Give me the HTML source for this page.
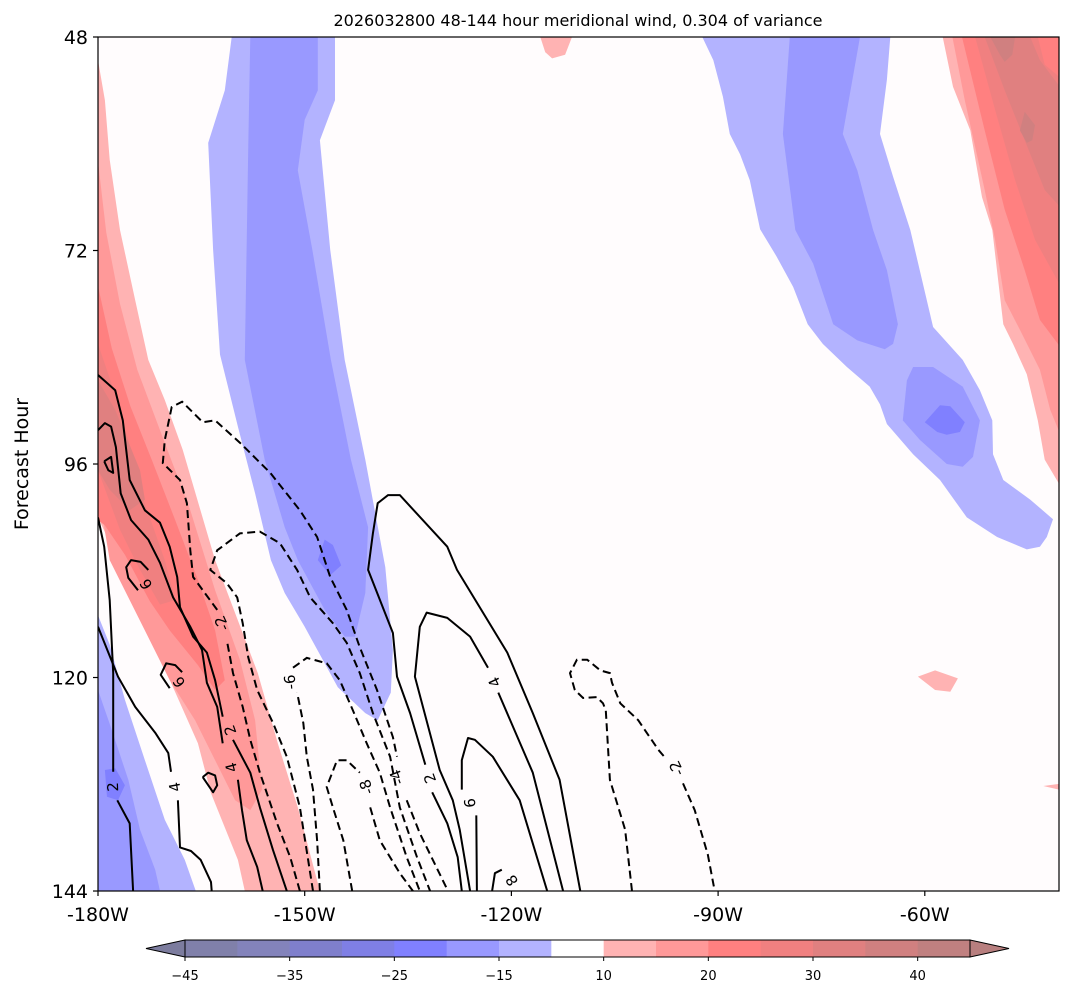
<!DOCTYPE html>
<html><head><meta charset="utf-8">
<style>
html,body{margin:0;padding:0;background:#fff;}
svg{display:block;font-family:"DejaVu Sans","Liberation Sans",sans-serif;}
</style></head>
<body>
<svg id="chart" width="1069" height="997" viewBox="0 0 1069 997" xmlns="http://www.w3.org/2000/svg">
  <defs><clipPath id="plotclip"><rect x="98" y="37" width="961" height="854"/></clipPath></defs>
  <text x="578" y="26" text-anchor="middle" font-size="16">2026032800 48-144 hour meridional wind, 0.304 of variance</text>
  <rect x="98" y="37" width="961" height="854" fill="#fffcfd"/>
  <g id="fills" clip-path="url(#plotclip)"></g>
  <g id="contours" clip-path="url(#plotclip)"></g>
  <rect x="98" y="37" width="961" height="854" fill="none" stroke="#000" stroke-width="1.2"/>
  <g id="axes"></g>
  <text transform="translate(28,464) rotate(-90)" text-anchor="middle" font-size="19">Forecast Hour</text>
  <g id="colorbar"></g>
</svg>
<script>
// ---------- axis data ----------
const xTicks = [-180, -150, -120, -90, -60];
const xTickLabels = ["-180W", "-150W", "-120W", "-90W", "-60W"];
const yTicks = [48, 72, 96, 120, 144];
const yTickLabels = ["48", "72", "96", "120", "144"];
const cbLevels = [-45,-40,-35,-30,-25,-20,-15,-10,10,15,20,25,30,35,40,45];
const cbTickValues = [-45,-35,-25,-15,10,20,30,40];
const cbColors = ["#8080aa","#8383bb","#7f7fcc","#7f7fe5","#8080ff","#9999ff","#b3b3ff","#ffffff","#ffb3b3","#ff9999","#ff8080","#f08080","#e08080","#d08080","#c08080"];

// ---------- shaded regions [lon, hour] ----------
const blueBand1Light = [[-160.6,48],[-161.6,54.0],[-164.0,59.9],[-163.3,71.9],[-162.3,83.7],[-159.7,91.8],[-157.2,99.3],[-154.9,106.8],[-152.9,110.5],[-150.0,114.3],[-145.2,121.1],[-141.2,124.0],[-139.4,124.8],[-137.5,121.7],[-137.2,116.9],[-138.3,107.6],[-141.2,95.5],[-144.2,84.3],[-146.3,71.9],[-147.8,59.6],[-145.6,55.1],[-145.6,48]];
const blueBand1Dark = [[-157.9,48],[-158.2,60.7],[-158.7,84.3],[-155.8,95.5],[-152.9,103.1],[-151.0,106.8],[-147.1,112.4],[-144.2,115.4],[-142.7,115.4],[-141.2,110.5],[-140.8,103.1],[-143.3,95.5],[-146.2,84.3],[-148.9,71.9],[-151.0,63.0],[-150.0,57.3],[-148.1,54.0],[-148.1,48]];
const blueBand1Core = [[-148.1,106.8],[-147.1,104.5],[-145.9,105.1],[-144.7,107.4],[-146.3,108.5]];
const blueBand2Light = [[-92.3,48],[-90.7,50.6],[-89.3,54.7],[-88.3,58.9],[-86.8,61.2],[-85.4,64.1],[-83.9,69.6],[-81.5,72.7],[-79.1,76.1],[-77.0,80.3],[-74.8,82.5],[-71.3,85.1],[-68.0,87.3],[-66.5,89.3],[-65.5,91.5],[-61.7,94.9],[-57.8,97.8],[-53.9,102.0],[-49.5,104.2],[-45.2,105.6],[-43.3,105.3],[-42.3,104.2],[-41.4,102.2],[-44.7,100.0],[-48.6,97.8],[-50.1,94.9],[-50.2,91.1],[-52.0,87.7],[-54.5,84.3],[-58.8,80.6],[-62.1,69.7],[-64.6,63.7],[-66.5,58.9],[-65.5,52.8],[-65.0,48]];
const blueBand2Dark = [[-79.6,48],[-80.6,58.9],[-78.8,69.7],[-76.2,73.5],[-73.3,80.3],[-69.8,82.1],[-65.8,83.1],[-64.6,82.5],[-63.9,80.3],[-65.5,74.2],[-67.5,69.7],[-69.8,63.0],[-71.9,58.9],[-69.4,48]];
const blueBand2Dark2 = [[-61.7,85.1],[-58.8,85.1],[-54.5,87.3],[-52.0,91.1],[-53.0,95.2],[-54.5,96.3],[-56.8,96.0],[-60.7,93.3],[-63.2,91.1],[-62.6,86.6]];
const blueBand2Core = [[-60.0,91.3],[-57.8,89.4],[-56.3,89.5],[-54.2,91.3],[-54.9,92.4],[-56.8,92.7],[-58.2,92.4]];
const blueLowerLeftLight = [[-180,113.0],[-178.3,116.3],[-176.1,122.5],[-173.2,129.3],[-170.3,136.0],[-167.4,140.5],[-165.8,144],[-180,144]];
const blueLowerLeftDark = [[-180,121.4],[-178.0,125.9],[-175.6,131.5],[-173.9,137.1],[-171.7,141.6],[-171.0,144],[-180,144]];
const blueLowerLeftCore = [[-179.0,130.4],[-177.5,130.2],[-176.1,132.1],[-177.1,133.8],[-178.7,133.4]];
const redRight10 = [[-57.4,48],[-55.9,53.6],[-53.4,58.5],[-51.7,66.0],[-50.2,69.7],[-48.6,80.3],[-47.2,82.5],[-45.2,85.9],[-43.6,91.1],[-42.6,95.5],[-40,98.9],[-40,48]];
const redRight15 = [[-56.0,48],[-54.2,55.1],[-51.3,65.2],[-49.8,70.8],[-48.4,77.6],[-46.2,80.9],[-43.3,85.4],[-41.8,89.9],[-40,93.3],[-40,48]];
const redRight20 = [[-54.6,48],[-51.3,58.5],[-48.4,67.4],[-45.5,74.2],[-43.3,79.8],[-40,83.2],[-40,48]];
const redRight25 = [[-52.7,48],[-49.8,56.2],[-46.9,64.1],[-44.0,70.8],[-40,76.4],[-40,52.8],[-42.6,51.1],[-43.6,48]];
const redRight30 = [[-51.3,48],[-48.4,54.0],[-45.5,59.6],[-42.6,65.2],[-40,67.4],[-40,54.0],[-43.3,50.6],[-44.7,48]];
const redRight35a = [[-50.5,48],[-49.1,50.0],[-48.4,50.8],[-47.3,50.0],[-46.9,48]];
const redRight35b = [[-46.2,58.5],[-45.5,56.4],[-44.0,57.9],[-44.4,59.6],[-45.2,59.9]];
const redLeft10 = [[-180,50.6],[-179.0,55.1],[-178.3,61.8],[-176.8,69.7],[-174.6,77.6],[-172.7,84.3],[-170.3,88.8],[-167.7,94.4],[-163.0,106.8],[-156.8,119.5],[-153.9,127.4],[-151.0,134.6],[-147.8,144],[-158.7,144],[-159.7,140.5],[-163.6,133.0],[-165.5,127.4],[-169.8,119.9],[-174.2,112.7],[-177.1,106.8],[-180,102.0]];
const redLeft15 = [[-180,62.0],[-178.8,70.0],[-176.8,78.0],[-174.3,85.4],[-171.0,92.2],[-166.6,101.2],[-163.0,110.2],[-159.4,118.0],[-157.2,124.8],[-156.2,132.6],[-157.9,134.9],[-160.1,133.8],[-163.0,129.3],[-165.9,124.8],[-169.6,120.3],[-172.5,115.8],[-175.4,111.3],[-178.3,106.8],[-180,98.9]];
const redLeft20 = [[-180,76.0],[-178.0,83.0],[-175.3,89.5],[-172.2,95.5],[-168.8,102.3],[-165.5,109.0],[-163.0,114.7],[-161.6,120.3],[-163.0,121.4],[-165.5,118.6],[-169.6,114.7],[-172.5,111.4],[-176.1,106.2],[-179.0,102.9],[-180,102.3]];
const redLeft25 = [[-180,82.5],[-177.8,87.5],[-175.6,93.3],[-173.4,100.0],[-170.3,106.8],[-168.8,111.3],[-171.0,111.8],[-173.9,107.9],[-176.8,103.4],[-180,96.7]];
const redLeft30 = [[-180,86.6],[-177.5,89.9],[-173.9,96.7],[-173.2,100.0],[-175.4,101.2],[-178.3,98.9],[-180,96.7]];
const pinkTop = [[-115.8,48],[-115.1,49.7],[-114.1,50.4],[-112.2,50.0],[-111.2,48]];
const pinkMid = [[-61.0,119.9],[-58.5,119.2],[-55.2,120.1],[-56.3,121.6],[-58.5,121.4]];
const pinkEdge = [[-42.8,132.2],[-40,131.9],[-40,132.7]];

// region -> shading level (lower bound of contour interval)
const regions = [
  [blueBand1Light, -15], [blueBand1Dark, -20], [blueBand1Core, -25],
  [blueBand2Light, -15], [blueBand2Dark, -20], [blueBand2Dark2, -20], [blueBand2Core, -25],
  [blueLowerLeftLight, -15], [blueLowerLeftDark, -20], [blueLowerLeftCore, -25],
  [redRight10, 10], [redRight15, 15], [redRight20, 20], [redRight25, 25], [redRight30, 30], [redRight35a, 35], [redRight35b, 35],
  [redLeft10, 10], [redLeft15, 15], [redLeft20, 20], [redLeft25, 25], [redLeft30, 30],
  [pinkTop, 10], [pinkMid, 10], [pinkEdge, 10]
];
const regionNames = ["blue-band1-15","blue-band1-20","blue-band1-25","blue-band2-15","blue-band2-20","blue-band2-20b","blue-band2-25","blue-lowerleft-15","blue-lowerleft-20","blue-lowerleft-25","red-right-10","red-right-15","red-right-20","red-right-25","red-right-30","red-right-35a","red-right-35b","red-left-10","red-left-15","red-left-20","red-left-25","red-left-30","pink-top","pink-mid","pink-edge"];

// ---------- contour lines [lon, hour], null = label gap ----------
const cPos2Left = [[-180,86.0],[-177.5,87.7],[-176.4,91.1],[-175.4,97.8],[-173.2,101.2],[-171.0,102.6],[-169.6,105.3],[-168.5,108.7],[-168.1,112.1],[-166.2,115.4],[-164.2,117.2],[-163.0,120.3],[-161.9,124.4],null,[-160.4,127.0],[-157.9,130.7],[-156.5,134.6],[-154.6,139.4],[-152.6,144]];
const cPos4Left = [[-180,92.2],[-179.0,91.4],[-178.1,91.8],[-177.4,94.1],[-176.7,99.3],[-175.2,102.3],[-172.7,104.5],[-171.0,107.1],[-169.1,111.0],[-166.6,114.3],[-164.9,116.9],[-164.2,120.6],[-162.7,123.3],[-161.9,127.4],null,[-159.7,131.5],[-159.1,134.9],[-158.4,138.3],[-156.9,141.3],[-156.1,144]];
const cPosTri = [[-179.1,95.7],[-178.1,95.2],[-177.8,97.0],[-178.5,96.7],[-179.1,95.7]];
const cPos6a = [[-174.2,110.2],[-175.6,108.8],[-175.9,107.6],[-175.2,106.8],[-173.8,107.0],[-172.7,107.9]];
const cPos6b = [[-169.6,121.2],[-170.9,119.7],[-170.1,118.4],[-168.8,118.6],[-167.8,119.4]];
const cPosLoop = [[-164.8,131.2],[-164.0,130.7],[-163.0,131.0],[-162.7,132.1],[-163.3,132.9],[-164.8,131.2]];
const cPos2Vert = [[-180,102.0],[-179.1,105.3],[-178.3,111.3],[-177.8,119.5],[-177.8,130.6],null,[-177.2,133.8],[-175.4,136.4],[-174.9,144]];
const cPos4Vert = [[-180,114.3],[-177.1,119.9],[-174.6,123.3],[-171.7,126.2],[-169.8,128.5],[-169.4,130.6],null,[-168.4,133.8],[-168.1,139.1],[-166.5,139.5],[-165.1,140.5],[-163.6,143.0],[-163.5,144]];
const cPos2Mid = [[-127.2,144],[-127.8,140.2],[-129.3,136.4],[-131.5,132.9],null,[-132.5,129.8],[-134.7,124.0],[-136.6,119.9],[-137.2,115.0],[-140.8,107.9],[-140.1,103.8],[-139.4,100.4],[-137.9,99.5],[-136.2,99.5],[-129.3,105.3],[-127.9,107.9],[-120.6,117.2],[-116.9,124.0],[-113.0,131.5],[-110.0,144]];
const cPos4Mid = [[-126.0,144],[-127.5,137.1],[-128.5,133.8],[-130.4,130.4],[-134.0,119.9],[-133.3,114.3],[-132.3,112.7],[-129.3,113.3],[-126.0,115.4],[-123.4,118.9],null,[-121.9,121.7],[-116.9,130.7],[-112.5,144]];
const cPos6Mid = [[-125.0,144],[-125.1,135.5],null,[-127.2,132.6],[-127.2,129.3],[-126.3,126.8],[-125.3,127.0],[-122.7,128.9],[-118.8,133.8],[-114.8,144]];
const cPos8Mid = [[-122.8,144],[-122.4,142.0],[-121.4,141.6]];
const cNeg2Outer = [[-150.7,144],[-152.1,140.2],[-154.0,136.4],[-156.5,130.7],[-157.9,127.0],[-159.0,123.3],[-160.4,119.5],[-161.3,115.8],null,[-162.7,112.4],[-166.2,108.7],[-166.6,105.7],[-167.1,100.4],[-168.1,97.8],[-170.6,95.9],[-170.3,93.3],[-169.3,89.6],[-167.8,89.0],[-164.8,91.3],[-163.0,91.1],[-159.4,93.6],[-155.0,97.0],[-150.7,101.2],[-148.2,104.2],[-146.3,108.7],[-143.9,112.4],[-142.0,116.6],[-139.5,121.4],[-137.2,126.7],[-136.6,128.9],null,[-135.2,133.8],[-133.3,137.5],[-129.2,144]];
const cNeg2Inner = [[-148.8,144],[-150.7,134.6],[-152.6,128.9],[-154.6,125.1],[-156.9,121.4],[-158.2,117.7],[-159.0,113.9],[-159.8,111.0],[-161.3,109.4],[-163.7,107.9],[-162.7,105.7],[-159.4,103.8],[-156.5,103.6],[-153.6,104.9],[-151.1,107.9],[-149.2,111.0],[-145.9,113.9],[-143.9,116.1],[-142.0,119.5],[-140.1,124.0],[-137.6,128.9],[-136.2,134.6],[-133.7,140.2],[-131.8,144]];
const cNeg6 = [[-147.8,144],[-148.2,138.3],[-148.8,132.6],[-149.7,128.9],[-150.2,125.1],[-151.1,121.7],null,[-151.7,118.9],[-149.7,117.8],[-146.8,118.4],[-144.9,120.3],[-143.0,123.7],[-141.0,127.4],[-139.1,130.7],[-137.6,134.6],[-135.2,140.2],[-133.3,144]];
const cNeg8 = [[-143.1,144],[-144.4,138.3],[-145.9,134.6],[-146.8,132.3],[-145.3,129.3],[-143.9,129.3],[-142.0,130.7],null,[-140.5,134.6],[-139.1,138.3],[-136.2,142.0],[-134.3,144]];
const cNeg2Right = [[-102.5,144],[-103.5,137.1],[-105.7,131.5],[-106.3,123.7],[-106.7,122.9],[-107.6,122.2],[-109.6,122.3],[-110.8,121.4],[-111.5,119.5],[-110.5,118.0],[-109.0,118.0],[-107.1,119.2],[-105.7,119.5],[-105.4,120.6],[-104.2,122.9],[-101.6,124.8],[-98.7,128.1],[-97.7,129.0],null,[-95.1,131.9],[-93.4,134.9],[-91.5,139.9],[-90.5,144]];

const solidContours = [cPos2Left, cPos4Left, cPosTri, cPos6a, cPos6b, cPosLoop, cPos2Vert, cPos4Vert, cPos2Mid, cPos4Mid, cPos6Mid, cPos8Mid];
const dashedContours = [cNeg2Outer, cNeg2Inner, cNeg6, cNeg8, cNeg2Right];

// contour labels [lon, hour]
const labelPositions = [[-160.8,125.9],[-160.6,130.1],[-173.0,109.5],[-168.2,120.5],[-177.8,132.3],[-168.8,132.3],[-131.8,131.3],[-122.4,120.5],[-126.0,134.1],[-119.9,142.8],[-162.0,113.9],[-136.6,131.2],[-152.1,120.5],[-141.0,132.3],[-96.0,130.2]];
const labelTexts = ["2","4","6","6","2","4","2","4","6","8","-2","-4","-6","-8","-2"];
const labelAngles = [-110,-105,-120,-125,-92,-100,-110,-115,-95,-125,-115,-110,-95,-110,-115];

// ---------- scales ----------
const X = lon => 98 + (lon + 180) * 6.89;
const Y = h => 37 + (h - 48) * 8.896;
const NS = "http://www.w3.org/2000/svg";
function colorFor(level){ return cbColors[cbLevels.indexOf(level)]; }
function mk(tag, attrs){ const e = document.createElementNS(NS, tag); for (const k in attrs) e.setAttribute(k, attrs[k]); return e; }

const fillsG = document.getElementById('fills');
regions.forEach((r, i) => {
  const d = r[0].map((p, j) => (j ? 'L' : 'M') + X(p[0]).toFixed(1) + ',' + Y(p[1]).toFixed(1)).join('') + 'Z';
  const p = mk('path', {d: d, fill: colorFor(r[1])});
  
  
  fillsG.appendChild(p);
});

function linePath(pts){
  let d = '', pen = false;
  pts.forEach(p => {
    if (p === null) { pen = false; return; }
    d += (pen ? 'L' : 'M') + X(p[0]).toFixed(1) + ',' + Y(p[1]).toFixed(1);
    pen = true;
  });
  return d;
}
const contG = document.getElementById('contours');
solidContours.forEach((c, i) => {
  const p = mk('path', {d: linePath(c), fill: 'none', stroke: '#000', 'stroke-width': 2, 'stroke-linejoin': 'round'});
  
  
  contG.appendChild(p);
});
dashedContours.forEach((c, i) => {
  const p = mk('path', {d: linePath(c), fill: 'none', stroke: '#000', 'stroke-width': 2, 'stroke-dasharray': '8,4.5'});
  
  
  contG.appendChild(p);
});
labelPositions.forEach((pos, i) => {
  const x = X(pos[0]), y = Y(pos[1]);
  const t = mk('text', {x: x, y: y + 5, 'text-anchor': 'middle', 'font-size': 15, transform: 'rotate(' + labelAngles[i] + ' ' + x + ' ' + y + ')'});
  t.textContent = labelTexts[i];
  
  
  contG.appendChild(t);
});

// ---------- axes ----------
const axesG = document.getElementById('axes');
xTicks.forEach((v, i) => {
  const x = X(v);
  const l = mk('line', {x1: x, x2: x, y1: 891, y2: 896, stroke: '#000', 'stroke-width': 1.2});
  
  
  axesG.appendChild(l);
  const t = mk('text', {x: x, y: 921, 'text-anchor': 'middle', 'font-size': 19});
  t.textContent = xTickLabels[i];
  
  
  axesG.appendChild(t);
});
yTicks.forEach((v, i) => {
  const y = Y(v);
  const l = mk('line', {x1: 93, x2: 98, y1: y, y2: y, stroke: '#000', 'stroke-width': 1.2});
  
  
  axesG.appendChild(l);
  const t = mk('text', {x: 88, y: y + 7, 'text-anchor': 'end', 'font-size': 19});
  t.textContent = yTickLabels[i];
  
  
  axesG.appendChild(t);
});

// ---------- colorbar ----------
const cbG = document.getElementById('colorbar');
const cbX0 = 185, cbX1 = 970, cbY0 = 940, cbY1 = 957;
const boxW = (cbX1 - cbX0) / cbColors.length;
const triL = mk('path', {d: `M${cbX0},${cbY0}L146,${(cbY0+cbY1)/2}L${cbX0},${cbY1}Z`, fill: '#7c7c9e', stroke: '#000', 'stroke-width': 1});


cbG.appendChild(triL);
const triR = mk('path', {d: `M${cbX1},${cbY0}L1009,${(cbY0+cbY1)/2}L${cbX1},${cbY1}Z`, fill: '#b87f7f', stroke: '#000', 'stroke-width': 1});


cbG.appendChild(triR);
cbColors.forEach((c, i) => {
  const r = mk('rect', {x: cbX0 + i * boxW, y: cbY0, width: boxW + 0.5, height: cbY1 - cbY0, fill: c});
  
  
  cbG.appendChild(r);
});
const cbFrame = mk('rect', {x: cbX0, y: cbY0, width: cbX1 - cbX0, height: cbY1 - cbY0, fill: 'none', stroke: '#000', 'stroke-width': 1});


cbG.appendChild(cbFrame);
cbTickValues.forEach(v => {
  const x = cbX0 + cbLevels.indexOf(v) * boxW;
  const l = mk('line', {x1: x, x2: x, y1: cbY1, y2: cbY1 + 4, stroke: '#000', 'stroke-width': 1});
  
  
  cbG.appendChild(l);
  const t = mk('text', {x: x, y: 980, 'text-anchor': 'middle', 'font-size': 13});
  t.textContent = (v < 0 ? '\u2212' + Math.abs(v) : String(v));
  
  
  cbG.appendChild(t);
});
</script>
</body></html>
